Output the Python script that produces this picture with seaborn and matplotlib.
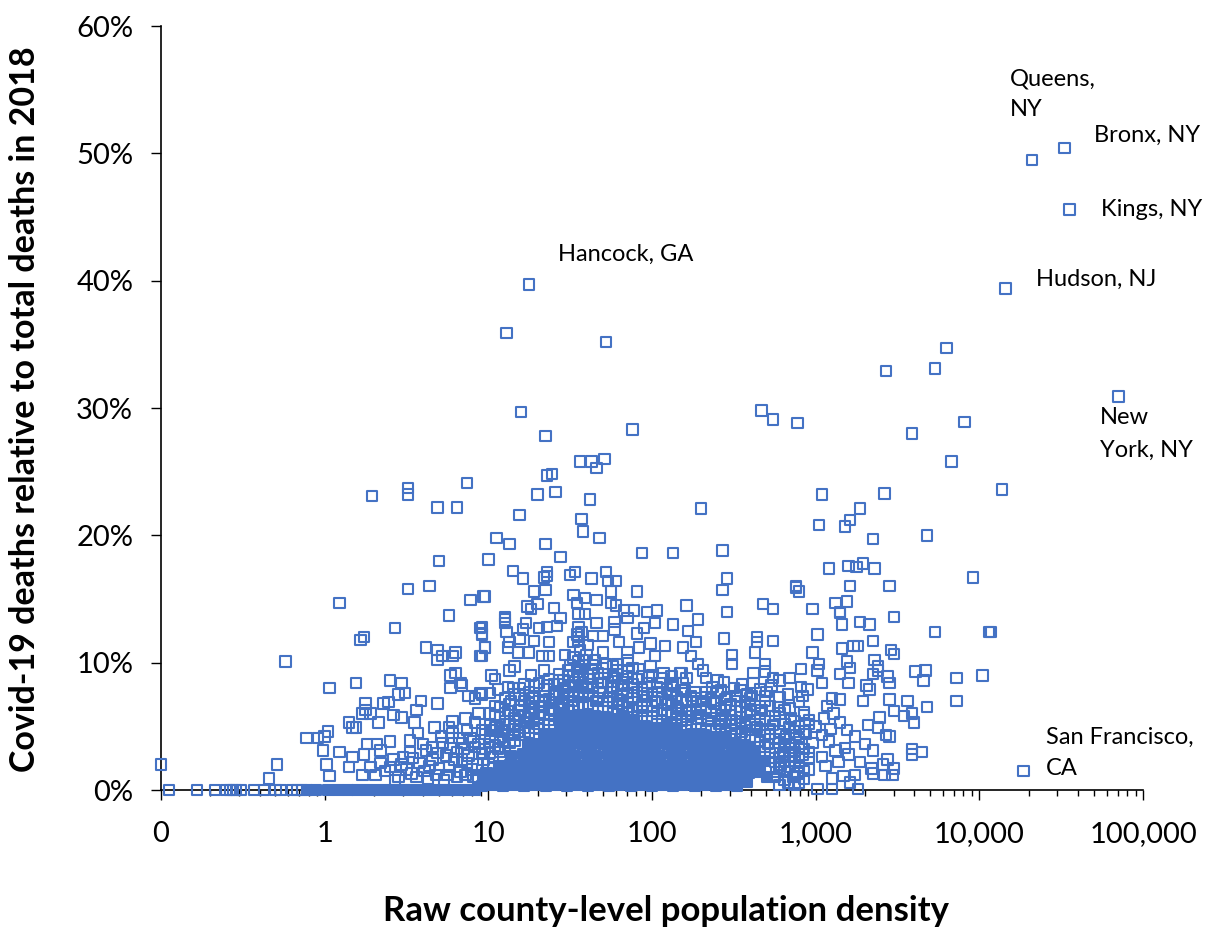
import pandas as pd
import matplotlib
matplotlib.use("Agg")
import matplotlib.pyplot as plt
from matplotlib.ticker import LogLocator, NullFormatter
import seaborn as sns

# all points are (log10 of density, covid deaths in % of 2018 deaths)
named_counties = [(4.32, 49.5), (4.52, 50.4), (4.55, 45.6), (4.16, 39.4), (4.85, 30.9), (4.27, 1.5), (1.25, 39.7)]

upper_points = [
    (1.11, 35.9), (1.72, 35.2), (1.20, 29.7), (1.35, 27.8), (1.88, 28.3), (1.36, 24.7), (1.39, 24.8), (1.56, 25.8),
    (1.63, 25.8), (1.71, 26.0), (1.66, 25.3), (1.41, 23.4), (1.30, 23.2), (1.62, 22.8), (1.57, 21.3), (1.58, 20.3),
    (1.68, 19.8), (1.19, 21.6), (1.05, 19.8), (1.13, 19.3), (1.35, 19.3), (1.44, 18.3), (1.00, 18.1), (0.87, 24.1),
    (0.51, 23.7), (0.51, 23.2), (0.29, 23.1), (0.69, 22.2), (0.81, 22.2), (0.70, 18.0), (1.94, 18.6), (2.13, 18.6),
    (2.30, 22.1), (2.43, 18.8), (2.67, 29.8), (2.74, 29.1), (2.89, 28.8), (3.43, 32.9), (3.80, 34.7), (3.73, 33.1),
    (3.59, 28.0), (3.91, 28.9), (3.83, 25.8),
]

right_points = [
    (3.04, 23.2), (3.42, 23.3), (4.14, 23.6), (3.27, 22.1), (3.21, 21.2), (3.18, 20.7), (3.02, 20.8), (3.35, 19.7),
    (3.68, 20.0), (3.20, 17.6), (3.25, 17.5), (3.29, 17.8), (3.36, 17.4), (3.08, 17.4), (3.96, 16.7), (2.88, 16.0),
    (2.88, 15.9), (2.90, 15.6), (3.21, 16.0), (3.45, 16.0), (3.12, 14.7), (3.19, 14.8), (3.15, 14.0), (3.15, 13.9),
    (2.98, 14.2), (3.48, 13.6), (3.27, 13.2), (3.33, 13.0), (3.16, 13.0), (3.73, 12.4), (4.06, 12.4), (4.07, 12.4),
    (3.01, 12.2), (3.35, 11.7), (3.16, 11.1), (3.23, 11.3), (3.26, 11.3), (2.98, 10.8), (3.46, 11.0), (3.48, 10.7),
    (3.36, 10.2), (3.19, 10.1), (3.21, 9.6), (3.38, 9.7), (3.38, 9.4), (3.02, 9.9), (3.01, 9.4), (2.91, 9.5),
    (3.15, 9.1), (3.35, 9.1), (3.44, 8.9), (3.45, 8.4), (3.61, 9.3), (3.67, 9.4), (3.66, 8.6), (3.86, 8.8),
    (4.02, 9.0), (3.20, 8.4), (3.04, 8.4), (3.31, 8.2), (3.33, 7.9), (3.10, 7.2), (3.15, 7.1), (3.29, 7.0),
    (3.45, 7.1), (3.56, 7.0), (3.86, 7.0), (3.68, 6.5), (3.48, 6.2), (3.39, 5.7), (3.54, 5.8), (3.59, 6.0),
    (3.60, 5.3), (3.32, 5.1), (3.38, 4.9), (3.43, 4.3), (3.45, 4.2), (3.59, 3.2), (3.59, 2.8), (3.65, 3.0),
    (3.35, 3.1), (3.30, 3.6), (3.24, 4.2), (3.19, 4.7), (3.15, 5.3), (3.44, 2.4), (3.41, 2.0), (3.48, 1.7),
    (3.47, 1.2), (3.42, 1.2), (3.35, 1.3), (3.34, 1.7), (3.24, 1.2), (3.17, 1.1), (3.21, 0.6), (3.26, 0.1),
    (3.10, 0.1), (3.01, 0.1), (3.10, 0.9), (3.27, 2.2), (3.20, 2.8), (3.04, 2.6), (2.98, 3.7), (3.04, 4.3),
    (2.90, 3.4), (2.96, 1.6), (2.89, 1.3), (2.90, 0.6), (2.83, 0.6), (2.81, 6.3), (3.06, 1.9), (3.12, 3.1),
    (3.08, 3.8), (3.14, 2.2), (3.18, 3.3), (3.00, 5.0), (3.05, 5.6), (3.09, 4.8), (3.11, 6.0), (2.94, 4.4),
    (2.96, 5.2), (2.87, 2.3), (2.92, 2.8), (2.85, 3.3), (2.88, 4.3), (2.93, 5.9), (2.87, 5.4), (3.07, 6.6),
]

left_points = [
    (-1.00, 2.0), (-0.34, 0.9), (-0.29, 2.0), (-0.24, 10.1), (0.03, 8.0), (0.09, 14.7), (0.19, 8.4), (0.22, 11.8),
    (0.24, 12.0), (0.43, 12.7), (0.51, 15.8), (0.64, 16.0), (0.89, 14.9), (0.97, 15.2), (0.76, 13.7), (0.95, 12.7),
    (0.96, 12.3), (0.62, 11.2), (0.69, 11.0), (0.69, 10.2), (0.72, 10.5), (0.78, 10.5), (0.80, 10.8), (0.98, 11.2),
    (0.95, 10.5), (0.77, 9.0), (0.80, 9.2), (0.77, 8.0), (0.83, 8.4), (0.84, 8.2), (0.88, 7.4), (0.92, 7.2),
    (0.95, 7.6), (1.01, 7.6), (0.40, 8.6), (0.47, 8.4), (0.49, 7.6), (0.45, 7.5), (0.59, 7.0), (0.39, 6.9),
    (0.36, 6.8), (0.25, 6.8), (0.25, 6.3), (0.23, 6.0), (0.28, 6.0), (0.42, 5.9), (0.47, 5.7), (0.33, 5.3),
    (0.15, 5.3), (0.17, 4.9), (0.19, 4.9), (0.02, 4.6), (0.00, 4.2), (-0.04, 4.1), (-0.11, 4.1), (-0.01, 3.1),
    (0.09, 3.0), (0.01, 2.0), (0.03, 1.1), (0.17, 2.6), (0.15, 1.8), (0.24, 2.8), (0.23, 1.2), (0.26, 3.6),
    (0.32, 3.6), (0.34, 3.1), (0.40, 3.8), (0.52, 3.9), (0.57, 4.5), (0.55, 5.3), (0.67, 4.9), (0.76, 4.9),
    (0.78, 5.4), (0.87, 4.7), (0.92, 5.3), (0.94, 6.0), (1.01, 6.0), (1.04, 5.9), (0.69, 6.8), (0.56, 6.3),
    (0.78, 4.5), (0.84, 3.7), (0.94, 3.6), (1.01, 3.8), (0.28, 1.8), (0.34, 2.1), (0.31, 1.2), (0.42, 2.4),
    (0.48, 2.6), (0.52, 3.0), (0.62, 3.1), (0.66, 3.4), (0.72, 3.7), (0.81, 3.0), (0.92, 3.4), (0.40, 1.8),
    (0.50, 1.6), (0.58, 2.1), (0.66, 2.4), (0.76, 1.8), (0.84, 2.4), (0.97, 2.4), (0.56, 1.0), (0.68, 1.2),
    (0.81, 1.0), (0.90, 1.6), (1.03, 1.7), (0.45, 1.0), (0.74, 2.7), (0.87, 2.1), (0.96, 2.9), (0.61, 1.5),
    (0.89, 4.1), (0.98, 4.4), (1.03, 4.7), (0.71, 4.2), (0.60, 3.6), (0.86, 1.2), (0.94, 0.9), (0.73, 0.8),
    (0.37, 1.5), (0.47, 2.0), (0.54, 2.5), (0.64, 1.9), (0.70, 1.7), (0.79, 2.4), (0.83, 1.4), (0.88, 2.7),
    (0.91, 1.0), (0.99, 1.3), (1.00, 2.0), (0.93, 2.0), (0.85, 3.2), (0.77, 3.3), (0.69, 2.9), (0.98, 3.2),
    (0.91, 3.8), (0.82, 4.1), (0.75, 1.2), (0.63, 0.9), (0.53, 1.3), (0.43, 0.8), (0.96, 4.7), (0.86, 5.6),
]

zero_counties = [
    -0.95, -0.78, -0.67, -0.60, -0.58, -0.56, -0.54, -0.51, -0.43, -0.37, -0.30, -0.27, -0.20, -0.17, -0.14,
]

mid_points = [
    (2.46, 16.6), (2.43, 15.7), (2.46, 14.0), (2.68, 14.6), (2.74, 14.2), (2.21, 14.5), (2.28, 13.4), (2.13, 13.0),
    (2.22, 12.5), (2.27, 11.6), (2.19, 11.2), (2.24, 10.5), (2.44, 11.9), (2.74, 11.7), (2.64, 12.0), (2.64, 11.6),
    (2.63, 10.8), (2.49, 10.6), (2.49, 9.9), (2.69, 9.9), (2.69, 9.3), (2.62, 9.2), (2.28, 9.9), (2.31, 9.4),
    (2.18, 9.2), (2.08, 11.3), (2.02, 10.5), (1.99, 11.5), (2.02, 13.1), (2.03, 14.1), (1.97, 14.0), (1.89, 14.1),
    (1.83, 14.1), (1.85, 13.5), (1.91, 12.3), (1.95, 12.7), (1.78, 14.5), (1.75, 14.7), (1.66, 14.9), (1.59, 15.1),
    (1.54, 14.7), (1.52, 15.3), (1.75, 15.6), (1.91, 15.6), (1.78, 16.4), (1.73, 16.4), (1.72, 17.1), (1.63, 16.6),
    (1.53, 17.1), (1.50, 16.9), (1.35, 15.7), (1.36, 17.1), (1.36, 16.8), (1.34, 16.7), (1.21, 16.6), (1.15, 17.2),
    (1.28, 15.6), (1.30, 14.6), (1.24, 14.4), (1.26, 14.2), (1.40, 14.3), (1.44, 13.5), (0.98, 15.2), (1.10, 13.6),
    (1.10, 13.4), (1.10, 13.1), (1.11, 12.4), (0.96, 12.8), (0.96, 12.2), (1.23, 13.1), (1.21, 12.6), (1.31, 12.7),
    (1.28, 11.7), (1.13, 11.6), (1.12, 11.2), (1.19, 11.9), (1.18, 10.8), (1.25, 10.8), (1.36, 12.8), (1.42, 12.9),
    (1.55, 13.8), (1.59, 13.8), (1.55, 12.8), (1.66, 13.1), (1.77, 13.2), (1.77, 12.6), (1.70, 12.1), (1.64, 12.1),
    (1.80, 11.6), (1.70, 10.8), (1.92, 11.2), (1.85, 10.8), (0.98, 11.2), (0.96, 10.5), (1.33, 10.5), (1.37, 10.5),
    (1.37, 11.6), (1.52, 11.6), (1.55, 12.0), (1.47, 10.6), (1.02, 9.0), (1.04, 8.7), (1.13, 9.4), (1.16, 9.7),
    (1.12, 8.1), (1.26, 9.0), (0.96, 7.5), (1.06, 7.9), (1.19, 7.5), (1.34, 9.4), (1.76, 9.7), (1.85, 10.2),
    (2.17, 9.2), (2.21, 8.8), (2.44, 8.5), (2.55, 8.3), (2.78, 8.6), (2.84, 8.8), (2.91, 8.1), (2.95, 7.9),
    (2.74, 8.8), (2.66, 7.9), (2.58, 7.5), (2.37, 8.1), (2.27, 6.9), (2.19, 8.4),
]

# outlines packed just above the solid part of the cloud
fringe_points = [
    (1.08, 4.6), (1.10, 5.4), (1.12, 6.2), (1.14, 7.0), (1.09, 3.9), (1.16, 5.0), (1.18, 5.9), (1.20, 6.6),
    (1.22, 4.6), (1.24, 5.3), (1.26, 6.1), (1.27, 7.2), (1.30, 5.2), (1.31, 5.7), (1.33, 6.5), (1.35, 7.4),
    (1.36, 8.2), (1.38, 6.0), (1.39, 6.9), (1.41, 7.7), (1.43, 8.6), (1.44, 6.4), (1.46, 7.2), (1.47, 8.0),
    (1.49, 8.9), (1.50, 9.8), (1.51, 7.0), (1.52, 7.7), (1.53, 8.5), (1.54, 9.3), (1.55, 10.1), (1.56, 11.0),
    (1.57, 8.2), (1.58, 9.0), (1.59, 9.8), (1.60, 10.6), (1.61, 11.4), (1.52, 10.4), (1.55, 11.7), (1.57, 12.4),
    (1.54, 12.2), (1.56, 9.5), (1.58, 7.3), (1.60, 8.0), (1.62, 8.7), (1.63, 9.5), (1.65, 10.2), (1.66, 7.0),
    (1.68, 7.7), (1.69, 8.4), (1.71, 9.1), (1.72, 9.9), (1.74, 7.3), (1.75, 8.0), (1.77, 8.8), (1.79, 9.4),
    (1.80, 6.8), (1.82, 7.5), (1.83, 8.2), (1.85, 8.9), (1.86, 6.5), (1.88, 7.2), (1.89, 8.0), (1.91, 8.7),
    (1.92, 9.5), (1.94, 6.7), (1.95, 7.4), (1.97, 8.1), (1.98, 8.9), (1.99, 9.7), (2.01, 6.2), (2.02, 7.0),
    (2.04, 7.7), (2.05, 8.4), (2.07, 9.2), (2.09, 6.0), (2.10, 6.8), (2.12, 7.5), (2.13, 8.2), (2.15, 5.7),
    (2.16, 6.4), (2.18, 7.1), (2.20, 7.8), (2.21, 5.5), (2.23, 6.2), (2.25, 7.0), (2.26, 7.7), (2.28, 5.6),
    (2.30, 6.3), (2.31, 7.0), (2.33, 7.7), (2.34, 5.4), (2.36, 6.1), (2.38, 6.8), (2.40, 7.6), (2.41, 5.2),
    (2.43, 5.9), (2.45, 6.6), (2.46, 7.3), (2.48, 4.8), (2.49, 5.5), (2.51, 6.2), (2.52, 7.0), (2.54, 7.8),
    (2.55, 4.6), (2.57, 5.3), (2.58, 6.0), (2.60, 6.7), (2.61, 7.4), (2.63, 4.2), (2.64, 4.9), (2.66, 5.6),
    (2.67, 6.3), (2.69, 7.0), (2.70, 7.7), (2.71, 3.6), (2.72, 4.4), (2.74, 5.1), (2.75, 5.8), (2.77, 6.5),
    (2.78, 7.3), (2.79, 2.0), (2.80, 2.8), (2.81, 3.5), (2.82, 4.2), (2.84, 4.9), (2.85, 5.6), (2.86, 1.0),
    (2.78, 0.4), (2.76, 1.4), (2.90, 6.9), (2.92, 7.4), (2.83, 7.5), (2.73, 8.2), (2.62, 8.4), (2.50, 8.0),
    (2.40, 8.6), (2.33, 8.8), (2.12, 8.9), (1.05, 5.0), (1.07, 6.5), (1.15, 8.0), (1.22, 8.3), (1.28, 8.2),
    (1.03, 2.6), (1.06, 3.2), (1.12, 4.3), (1.18, 4.6), (1.28, 4.9),
]

dense_points = [
    (1.01, 2.9), (1.01, 4.2), (1.01, 5.1), (1.04, 3.5), (1.04, 4.9), (1.04, 6.6), (1.07, 3.0), (1.07, 4.1),
    (1.07, 5.7), (1.10, 3.4), (1.10, 4.7), (1.10, 6.0), (1.10, 7.2), (1.13, 3.7), (1.13, 5.2), (1.13, 6.7),
    (1.16, 3.9), (1.16, 4.4), (1.16, 5.6), (1.16, 7.5), (1.19, 4.3), (1.19, 5.4), (1.19, 6.3), (1.19, 8.0),
    (1.22, 4.9), (1.22, 5.8), (1.22, 7.0), (1.25, 4.5), (1.25, 5.6), (1.25, 6.8), (1.25, 7.7), (1.28, 5.4),
    (1.28, 6.4), (1.28, 7.4), (1.31, 4.8), (1.31, 6.1), (1.31, 7.0), (1.31, 8.4), (1.34, 5.2), (1.34, 5.9),
    (1.34, 6.9), (1.34, 7.9), (1.37, 5.5), (1.37, 6.4), (1.37, 7.1), (1.37, 8.7), (1.40, 5.0), (1.40, 6.2),
    (1.40, 7.5), (1.40, 8.3), (1.43, 5.8), (1.43, 6.7), (1.43, 7.4), (1.43, 9.1), (1.46, 6.0), (1.46, 6.8),
    (1.46, 7.8), (1.46, 8.6), (1.49, 6.3), (1.49, 7.5), (1.49, 8.2), (1.49, 9.4), (1.52, 6.6), (1.52, 7.3),
    (1.52, 8.1), (1.52, 9.0), (1.55, 6.7), (1.55, 7.4), (1.55, 8.8), (1.55, 9.7), (1.58, 6.5), (1.58, 7.7),
    (1.58, 8.5), (1.58, 10.2), (1.61, 6.8), (1.61, 7.5), (1.61, 8.3), (1.61, 9.1), (1.64, 6.6), (1.64, 7.4),
    (1.64, 8.1), (1.64, 9.8), (1.67, 6.4), (1.67, 7.2), (1.67, 8.8), (1.67, 9.2), (1.70, 6.5), (1.70, 7.6),
    (1.70, 8.4), (1.70, 9.6), (1.73, 6.2), (1.73, 7.0), (1.73, 8.5), (1.76, 6.0), (1.76, 6.9), (1.76, 7.7),
    (1.76, 9.0), (1.79, 6.2), (1.79, 7.1), (1.79, 8.2), (1.79, 9.9), (1.82, 5.8), (1.82, 6.6), (1.82, 7.9),
    (1.82, 8.7), (1.85, 6.0), (1.85, 6.9), (1.85, 7.6), (1.85, 9.3), (1.88, 5.5), (1.88, 6.3), (1.88, 8.3),
    (1.88, 9.6), (1.91, 5.8), (1.91, 6.5), (1.91, 7.7), (1.94, 5.6), (1.94, 6.2), (1.94, 7.9), (1.94, 8.9),
    (1.97, 5.4), (1.97, 6.5), (1.97, 7.3), (1.97, 8.4), (2.00, 5.7), (2.00, 6.6), (2.00, 7.5), (2.00, 9.0),
    (2.03, 5.2), (2.03, 6.0), (2.03, 8.1), (2.06, 5.4), (2.06, 6.3), (2.06, 7.2), (2.06, 8.8), (2.09, 5.0),
    (2.09, 6.7), (2.09, 7.9), (2.12, 5.3), (2.12, 6.1), (2.12, 7.0), (2.12, 8.4), (2.15, 5.1), (2.15, 6.6),
    (2.15, 7.3), (2.18, 5.4), (2.18, 6.0), (2.18, 7.8), (2.21, 4.9), (2.21, 6.3), (2.21, 6.9), (2.24, 5.2),
    (2.24, 5.8), (2.24, 7.4), (2.27, 4.8), (2.27, 6.1), (2.27, 7.2), (2.30, 5.2), (2.30, 5.7), (2.30, 6.7),
    (2.33, 4.8), (2.33, 6.4), (2.33, 7.3), (2.36, 5.0), (2.36, 5.6), (2.36, 7.1), (2.39, 4.6), (2.39, 6.2),
    (2.39, 7.0), (2.42, 5.0), (2.42, 5.6), (2.42, 6.4), (2.42, 7.8), (2.45, 4.5), (2.45, 5.4), (2.45, 7.1),
    (2.48, 4.2), (2.48, 5.9), (2.48, 6.7), (2.51, 4.5), (2.51, 5.2), (2.51, 7.4), (2.54, 4.0), (2.54, 5.7),
    (2.54, 6.5), (2.57, 4.3), (2.57, 5.0), (2.57, 6.9), (2.60, 3.9), (2.60, 5.5), (2.60, 6.2), (2.60, 7.2),
    (2.63, 3.4), (2.63, 5.2), (2.63, 6.6), (2.66, 3.0), (2.66, 3.9), (2.66, 4.6), (2.66, 6.0), (2.69, 2.6),
    (2.69, 3.4), (2.69, 4.3), (2.69, 5.4), (2.69, 7.4), (2.72, 1.7), (2.72, 2.9), (2.72, 4.8), (2.72, 6.6),
    (2.75, 1.0), (2.75, 2.2), (2.75, 3.3), (2.75, 4.0), (2.75, 5.4), (2.78, 1.7), (2.78, 2.6), (2.78, 3.7),
    (2.78, 4.6), (2.78, 6.0), (2.81, 0.8), (2.81, 1.4), (2.81, 2.3), (2.81, 3.0), (2.81, 4.0), (2.81, 5.2),
    (2.84, 1.8), (2.84, 2.7), (2.84, 3.6), (2.84, 6.4), (2.87, 0.4), (2.87, 1.0), (2.87, 3.0), (2.87, 4.6),
    (2.90, 1.9), (2.90, 2.5), (2.90, 4.0), (2.90, 5.0), (2.93, 0.9), (2.93, 1.5), (2.93, 3.2), (2.93, 4.6),
    (2.93, 6.1), (2.96, 2.5), (2.96, 3.0), (2.96, 5.5),
]

# the solid part of the cloud, where the outlines overlap so much they fill in
solid_points = [
    (-0.11, 0), (-0.05, 0), (0.02, 0), (0.08, 0), (0.14, 0), (0.20, 0), (0.26, 0), (0.32, 0), (0.38, 0), (0.44, 0),
    (0.50, 0), (0.56, 0), (0.62, 0), (0.68, 0), (0.74, 0), (0.80, 0), (0.86, 0), (0.92, 0),
    (0.96, 0.3), (1.02, 0.4), (1.09, 0.3), (1.15, 0.4), (1.22, 0.3), (1.28, 0.4), (1.35, 0.3), (1.41, 0.4),
    (1.48, 0.3), (1.54, 0.4), (1.61, 0.3), (1.67, 0.4), (1.74, 0.3), (1.80, 0.4), (1.87, 0.3), (1.93, 0.4),
    (2.00, 0.3), (2.06, 0.4), (2.13, 0.3), (2.19, 0.4), (2.26, 0.3), (2.32, 0.4), (2.39, 0.3), (2.45, 0.4),
    (2.52, 0.3), (2.58, 0.6),
    (0.97, 1.1), (1.03, 1.2), (1.09, 1.1), (1.16, 1.2), (1.22, 1.1), (1.29, 1.2), (1.35, 1.1), (1.42, 1.2), (1.48, 1.1),
    (1.55, 1.2), (1.61, 1.1), (1.68, 1.2), (1.74, 1.1), (1.81, 1.2), (1.87, 1.1), (1.94, 1.2), (2.00, 1.1),
    (2.07, 1.2), (2.13, 1.1), (2.20, 1.2), (2.26, 1.1), (2.33, 1.2), (2.39, 1.1), (2.46, 1.2), (2.52, 1.1),
    (2.59, 1.3), (2.65, 1.4), (2.70, 1.0),
    (1.07, 1.9), (1.13, 2.0), (1.20, 1.9), (1.26, 2.0), (1.33, 1.9), (1.39, 2.0), (1.46, 1.9), (1.52, 2.0),
    (1.59, 1.9), (1.65, 2.0), (1.72, 1.9), (1.78, 2.0), (1.85, 1.9), (1.91, 2.0), (1.98, 1.9), (2.04, 2.0),
    (2.11, 1.9), (2.17, 2.0), (2.24, 1.9), (2.30, 2.0), (2.37, 1.9), (2.43, 2.0), (2.50, 1.9), (2.56, 2.0),
    (2.63, 2.1), (2.69, 2.3),
    (1.14, 2.7), (1.21, 2.8), (1.27, 2.7), (1.34, 2.8), (1.40, 2.7), (1.47, 2.8), (1.53, 2.7), (1.60, 2.8),
    (1.66, 2.7), (1.73, 2.8), (1.79, 2.7), (1.86, 2.8), (1.92, 2.7), (1.99, 2.8), (2.05, 2.7), (2.12, 2.8),
    (2.18, 2.7), (2.25, 2.8), (2.31, 2.7), (2.38, 2.8), (2.44, 2.7), (2.51, 2.8), (2.57, 2.7), (2.63, 3.0),
    (1.24, 3.5), (1.31, 3.6), (1.37, 3.5), (1.44, 3.6), (1.50, 3.5), (1.57, 3.6), (1.63, 3.5), (1.70, 3.6),
    (1.76, 3.5), (1.83, 3.6), (1.89, 3.5), (1.96, 3.6), (2.02, 3.5), (2.09, 3.6), (2.15, 3.5), (2.22, 3.6),
    (2.28, 3.5), (2.35, 3.6), (2.41, 3.5), (2.48, 3.6), (2.54, 3.5), (2.60, 3.4),
    (1.34, 4.3), (1.41, 4.4), (1.47, 4.3), (1.54, 4.4), (1.60, 4.3), (1.67, 4.4), (1.73, 4.3), (1.80, 4.4),
    (1.86, 4.3), (1.93, 4.4), (1.99, 4.3), (2.06, 4.4), (2.12, 4.3), (2.19, 4.3), (2.25, 4.3), (2.32, 4.3),
    (2.38, 4.2), (2.44, 4.2),
    (1.44, 5.1), (1.50, 5.1), (1.57, 5.2), (1.63, 5.1), (1.70, 5.2), (1.76, 5.1), (1.83, 5.2), (1.89, 5.1),
    (1.96, 5.0), (2.02, 4.9), (2.08, 4.9), (2.14, 4.8),
    (1.47, 5.8), (1.53, 5.8), (1.59, 5.9), (1.65, 5.8), (1.71, 5.7), (1.77, 5.6), (1.83, 5.7), (1.89, 5.5),
]

x_ticks = [0.1, 1, 10, 100, 1000, 10000, 100000]
x_tick_labels = ["0", "1", "10", "100", "1,000", "10,000", "100,000"]
y_ticks = [0, 10, 20, 30, 40, 50, 60]
y_tick_labels = ["0%", "10%", "20%", "30%", "40%", "50%", "60%"]

BLUE = "#4472C4"
W, H = 1209, 930


def to_frame(points):
    df = pd.DataFrame(points, columns=["log_density", "pct"])
    df["density"] = 10 ** df["log_density"]
    return df


sns.set_theme(style="white")
plt.rcParams["font.family"] = ["Lato", "DejaVu Sans"]

fig = plt.figure(figsize=(W / 100, H / 100), dpi=100)
ax = fig.add_axes([161 / W, 1 - 790 / H, (1143 - 161) / W, (790 - 26) / H])

outline = to_frame(
    named_counties + upper_points + right_points + left_points + mid_points + fringe_points + dense_points
    + [(x, 0) for x in zero_counties]
)
solid = to_frame(solid_points)

sns.scatterplot(data=solid, x="density", y="pct", marker="s", s=62, color=BLUE, edgecolor=BLUE,
                linewidth=1.5, clip_on=False, zorder=3, ax=ax)
sns.scatterplot(data=outline, x="density", y="pct", marker="s", s=56, facecolors="none", edgecolor=BLUE,
                linewidth=1.5, clip_on=False, zorder=3, ax=ax)

ax.set_xscale("log")
ax.set_xlim(0.1, 100000)
ax.set_ylim(0, 60)
ax.set_xticks(x_ticks, x_tick_labels)
ax.set_yticks(y_ticks, y_tick_labels)
ax.xaxis.set_minor_locator(LogLocator(base=10, subs=range(2, 10), numticks=20))
ax.xaxis.set_minor_formatter(NullFormatter())
ax.tick_params(axis="both", which="major", length=7, width=1, color="black", labelsize=21, labelcolor="black", bottom=True, left=True)
ax.tick_params(axis="x", which="major", pad=15)
ax.tick_params(axis="y", which="major", pad=13)
ax.tick_params(axis="x", which="minor", length=4.5, width=1, color="black", bottom=True)
ax.set_xlabel("")
ax.set_ylabel("")
sns.despine(ax=ax)
for side in ["left", "bottom"]:
    ax.spines[side].set_color("black")
    ax.spines[side].set_linewidth(1.2)

fig.text(666 / W, 1 - 911 / H, "Raw county-level population density", fontsize=25, fontweight="bold", ha="center", va="center", color="black")
fig.text(25 / W, 1 - 409 / H, "Covid-19 deaths relative to total deaths in 2018", fontsize=24.5, fontweight="bold", rotation=90, ha="center", va="center", color="black")

labels = [
    (1010, 79, "Queens,"), (1010, 110, "NY"), (1094, 135, "Bronx, NY"), (1101, 209, "Kings, NY"),
    (1036, 279, "Hudson, NJ"), (1100, 418, "New"), (1100, 450, "York, NY"), (1046, 737, "San Francisco,"),
    (1046, 768, "CA"), (558, 254, "Hancock, GA"),
]
for px, py, txt in labels:
    fig.text(px / W, 1 - py / H, txt, fontsize=17, ha="left", va="center", color="black")

fig.savefig("out.png", dpi=100)
